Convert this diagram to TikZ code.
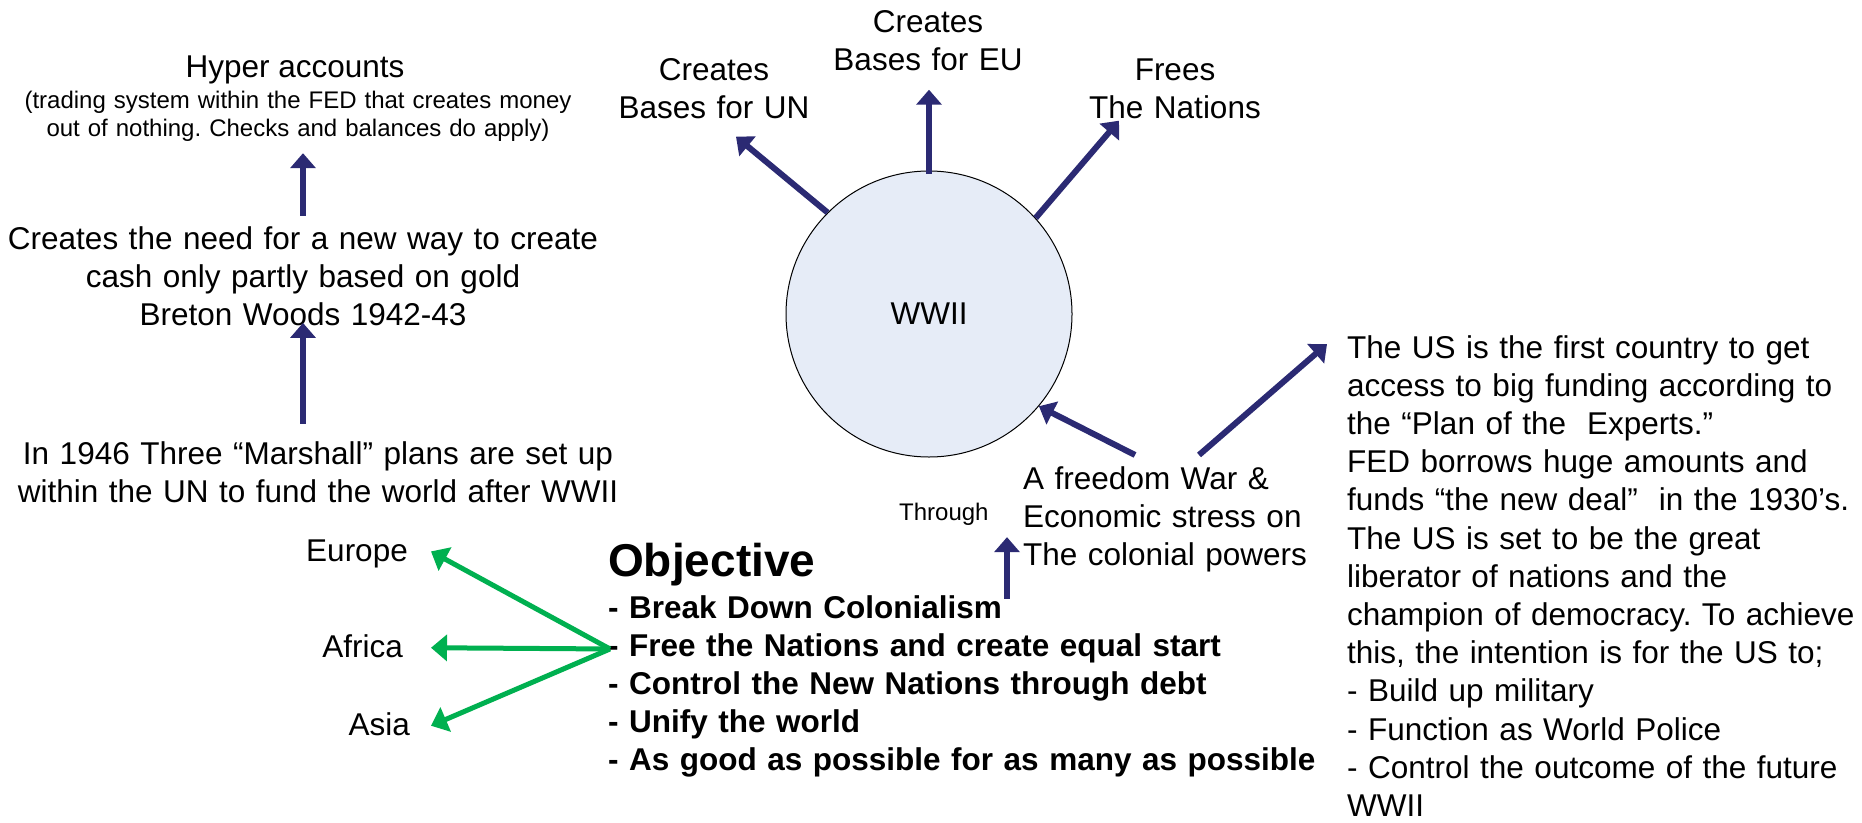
\documentclass[tikz,border=0pt]{standalone}
\usepackage{fontspec}
\setmainfont{Liberation Sans}
\usetikzlibrary{arrows.meta}
\definecolor{wwnavy}{HTML}{2B2A73}
\definecolor{wwgreen}{HTML}{00B050}
\definecolor{wwfill}{HTML}{E6ECF7}
\newcommand{\bodysize}{\fontsize{31.5}{38.2}\selectfont}
\newcommand{\notesize}{\fontsize{24}{28}\selectfont}
\frenchspacing
\tikzset{
  txt/.style={inner sep=0pt, font=\bodysize},
  navyarrow/.style={draw=wwnavy, line width=6pt, -{Triangle[length=15pt,width=25pt]}},
  greenarrow/.style={draw=wwgreen, line width=5pt, -{Triangle[length=16pt,width=26pt]}},
}

\begin{document}
\begin{tikzpicture}[x=1pt, y=-1pt]
  \useasboundingbox (0,0) rectangle (1862,822);
  % left column
  \node[txt, anchor=base] (hyper) at (295,77) {Hyper accounts};
  \node[txt, font=\notesize, anchor=base, text width=600pt, align=center] (hypernote) at (298,108) {(trading system within the FED that creates money\\out of nothing. Checks and balances do apply)};
  \node[txt, anchor=base, text width=640pt, align=center] (need) at (303,249) {Creates the need for a new way to create\\cash only partly based on gold\\Breton Woods 1942-43};
  \node[txt, anchor=base, text width=640pt, align=center] (marshall) at (318,464) {In 1946 Three “Marshall” plans are set up\\within the UN to fund the world after WWII};
  \node[txt, anchor=base east] (europe) at (408,561) {Europe};
  \node[txt, anchor=base east] (africa) at (403,657) {Africa};
  \node[txt, anchor=base east] (asia) at (410,735) {Asia};
  % objective
  \node[txt, font=\fontsize{46}{55}\selectfont\bfseries, anchor=base west] (objtitle) at (608,576) {Objective};
  \node[txt, font=\bodysize\bfseries, anchor=base west, text width=760pt, align=left] (goals) at (608,618) {- Break Down Colonialism\\- Free the Nations and create equal start\\- Control the New Nations through debt\\- Unify the world\\- As good as possible for as many as possible};
  % centre
  \node[circle, draw, line width=1pt, fill=wwfill, minimum size=286pt, inner sep=0pt, font=\bodysize] (wwii) at (929,314) {WWII};
  \node[txt, anchor=base, text width=260pt, align=center] (unlabel) at (714,80) {Creates\\Bases for UN};
  \node[txt, anchor=base, text width=260pt, align=center] (eulabel) at (928,32) {Creates\\Bases for EU};
  \node[txt, anchor=base, text width=260pt, align=center] (freeslabel) at (1175,80) {Frees\\The Nations};
  \node[txt, font=\notesize, anchor=base west] (through) at (899,520) {Through};
  \node[txt, anchor=base west, text width=300pt, align=left] (freedom) at (1023,489) {A freedom War \&\\Economic stress on\\The colonial powers};
  % right column
  \node[txt, anchor=base west, text width=540pt, align=left] (usblock) at (1347,358) {The US is the first country to get\\access to big funding according to\\the “Plan of the\ \ Experts.”\\FED borrows huge amounts and\\funds “the new deal”\ \ in the 1930’s.\\The US is set to be the great\\liberator of nations and the\\champion of democracy. To achieve\\this, the intention is for the US to;\\- Build up military\\- Function as World Police\\- Control the outcome of the future\\WWII};

  % arrows
  \draw[navyarrow, shorten <=10pt, shorten >=12pt] (need.north) -- (need.north |- hypernote.south);
  \draw[navyarrow, shorten <=17pt, shorten >=-3pt] (need.south |- marshall.north) -- (need.south);
  \draw[navyarrow, shorten <=-3pt, shorten >=19pt] (wwii.north) -- (wwii.north |- eulabel.south);
  \coordinate (untip) at ([xshift=22pt, yshift=-18pt]unlabel.south);
  \draw[navyarrow] (wwii.135) -- (untip);
  \coordinate (freestip) at ([xshift=-56pt, yshift=-2pt]freeslabel.south);
  \draw[navyarrow] (wwii.42) -- (freestip);
  \coordinate (wartail) at ([xshift=112pt, yshift=11pt]freedom.north west);
  \draw[navyarrow] (wartail) -- (wwii.-40);
  \coordinate (fundtail) at ([xshift=176pt, yshift=11pt]freedom.north west);
  \coordinate (fundtip) at ([xshift=-20pt, yshift=-9pt]usblock.north west);
  \draw[navyarrow] (fundtail) -- (fundtip);
  \coordinate (thrufoot) at ([xshift=399pt, yshift=-4pt]goals.north west);
  \coordinate (thrutip) at ([xshift=-16pt, yshift=35pt]freedom.south west);
  \draw[navyarrow] (thrufoot) -- (thrutip);
  \coordinate (fork) at ([xshift=2pt, yshift=-54pt]goals.north west);
  \draw[greenarrow] (fork) -- ([xshift=23pt, yshift=2pt]europe.east);
  \draw[greenarrow] (fork) -- ([xshift=28pt, yshift=-2pt]africa.east);
  \draw[greenarrow] (fork) -- ([xshift=21pt, yshift=-2pt]asia.east);
\end{tikzpicture}
\end{document}
